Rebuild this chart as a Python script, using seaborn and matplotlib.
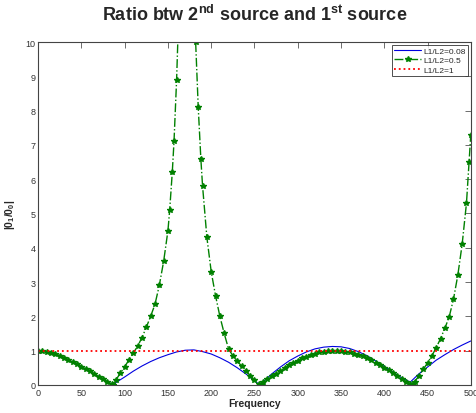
import matplotlib
matplotlib.use("Agg")
import matplotlib.pyplot as plt
import seaborn as sns
import numpy as np

# values
freq_blue = [0, 10, 20, 30, 40, 50, 60, 70, 80, 87, 90, 100, 110, 120, 130, 140, 150,
             160, 170, 180, 190, 200, 210, 220, 230, 240, 250, 256, 260, 270, 280, 290,
             300, 310, 320, 330, 340, 350, 360, 370, 380, 390, 400, 410, 420, 430, 440,
             450, 460, 470, 480, 490, 500]
ratio_blue = [1.00, 0.97, 0.90, 0.79, 0.66, 0.53, 0.39, 0.24, 0.09, 0.00, 0.07, 0.23, 0.40,
              0.55, 0.68, 0.79, 0.88, 0.96, 1.01, 1.02, 0.97, 0.90, 0.79, 0.66, 0.50, 0.32,
              0.12, 0.00, 0.09, 0.32, 0.52, 0.70, 0.84, 0.96, 1.05, 1.10, 1.12, 1.11, 1.06,
              0.97, 0.85, 0.70, 0.54, 0.37, 0.21, 0.08, 0.32, 0.52, 0.72, 0.88, 1.03, 1.16,
              1.28]

freq_green = [0, 5, 10, 15, 20, 25, 30, 35, 40, 45, 50, 55, 60, 65, 70, 75, 80, 85, 87,
              90, 95, 100, 105, 110, 115, 120, 125, 130, 135, 140, 145, 150, 152, 155, 157,
              160, 162, 165, 170, 175, 178, 180, 182, 185, 188, 190, 195, 200, 205, 210,
              215, 220, 225, 230, 235, 240, 245, 250, 255, 257, 260, 265, 270, 275, 280,
              285, 290, 295, 300, 305, 310, 315, 320, 325, 330, 335, 340, 345, 350, 355,
              360, 365, 370, 375, 380, 385, 390, 395, 400, 405, 410, 415, 420, 425, 430,
              432, 435, 440, 445, 450, 455, 460, 465, 470, 475, 480, 485, 490, 495, 498,
              500]
ratio_green = [1.00, 0.99, 0.97, 0.94, 0.90, 0.85, 0.79, 0.72, 0.66, 0.60, 0.53, 0.46,
               0.39, 0.31, 0.24, 0.16, 0.09, 0.02, 0.00, 0.15, 0.34, 0.53, 0.73, 0.93,
               1.13, 1.38, 1.68, 2.00, 2.35, 2.90, 3.60, 4.50, 5.10, 6.20, 7.10, 8.90,
               10.5, 14.0, 40.0, 30.0, 15.0, 12.0, 10.0, 8.10, 6.60, 5.80, 4.30, 3.30,
               2.60, 2.00, 1.50, 1.05, 0.85, 0.70, 0.55, 0.41, 0.27, 0.14, 0.02, 0.00,
               0.07, 0.16, 0.25, 0.33, 0.41, 0.49, 0.57, 0.64, 0.71, 0.77, 0.82, 0.87,
               0.91, 0.95, 0.97, 0.99, 1.00, 1.00, 0.99, 0.97, 0.95, 0.91, 0.87, 0.83,
               0.78, 0.72, 0.65, 0.58, 0.50, 0.42, 0.34, 0.26, 0.17, 0.09, 0.02, 0.00,
               0.09, 0.26, 0.45, 0.64, 0.85, 1.08, 1.35, 1.65, 1.98, 2.50, 3.20, 4.10,
               5.30, 6.50, 7.30]

freq_red = [0, 500]
ratio_red = [1, 1]

labels = ["L1/L2=0.08", "L1/L2=0.5", "L1/L2=1"]

sns.set_style("white")
plt.rcParams['font.family'] = ['Liberation Sans', 'DejaVu Sans']
plt.rcParams['mathtext.fontset'] = 'custom'
plt.rcParams['mathtext.rm'] = 'Liberation Sans'
plt.rcParams['mathtext.bf'] = 'Liberation Sans:bold'

fig = plt.figure(figsize=(4.77, 4.14), dpi=100)
ax = fig.add_axes([0.080, 0.068, 0.907, 0.828])

sns.lineplot(x=freq_blue, y=ratio_blue, ax=ax, color='#0000e0', linewidth=0.8,
             label=labels[0])
sns.lineplot(x=freq_green, y=ratio_green, ax=ax, color='#008000', linewidth=1.0,
             linestyle='-.', marker='*', markersize=4, markeredgewidth=1.0,
             markeredgecolor='#008000', markerfacecolor='#008000',
             label=labels[1])
sns.lineplot(x=freq_red, y=ratio_red, ax=ax, color='#ff0000', linewidth=1.3,
             linestyle=':', label=labels[2])

ax.set_xlim(0, 500)
ax.set_ylim(0, 10)
ax.set_xticks(np.arange(0, 501, 50))
ax.set_yticks(np.arange(0, 11, 1))
ax.tick_params(direction='in', top=True, right=True, length=4, width=0.6,
               labelsize=6.5, labelcolor='#333333', colors='#555555', pad=2)
for s in ax.spines.values():
    s.set_color('#444444')
    s.set_linewidth(0.8)

ax.set_xlabel("Frequency", fontsize=7.5, fontweight='bold', labelpad=1)
ax.set_ylabel("|0$_\\mathbf{1}$/0$_\\mathbf{0}$|", fontsize=7.5, fontweight='bold',
              labelpad=6)
ax.set_title("Ratio btw 2$^{\\mathbf{nd}}$ source and 1$^{\\mathbf{st}}$ source",
             fontsize=13, fontweight='bold', pad=16)

leg = ax.legend(loc='upper right', fontsize=6, frameon=True, fancybox=False,
                borderaxespad=0.3, handlelength=3.2, labelspacing=0.2,
                borderpad=0.3, handletextpad=0.3)
leg.get_frame().set_edgecolor('#222222')
leg.get_frame().set_linewidth(0.7)

plt.savefig("out.png", dpi=100)
